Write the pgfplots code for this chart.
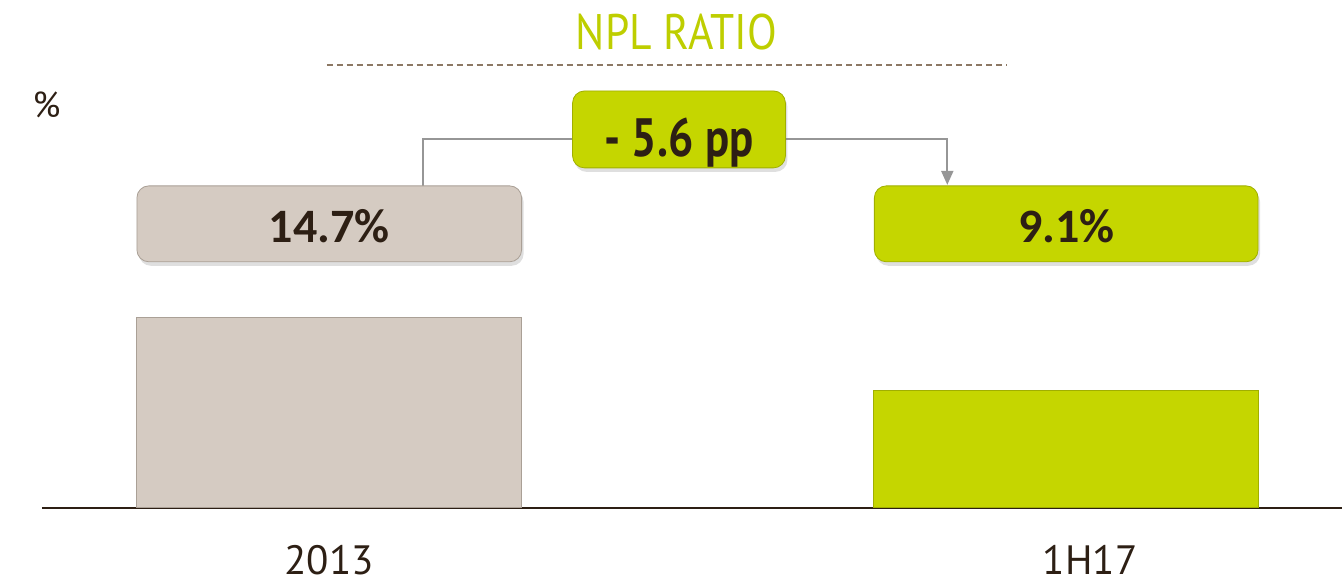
\documentclass[border=0pt]{standalone}
\usepackage{fontspec}
\setmainfont{PT Sans}
\newfontfamily\titlefont[FakeStretch=0.87]{PT Sans}
\newfontfamily\valfont{Carlito}
\newfontfamily\ppfont[FakeStretch=0.83]{PT Sans}
\usepackage{pgfplots}
\pgfplotsset{compat=1.18}
\usetikzlibrary{shadows,arrows.meta}
\definecolor{beige}{RGB}{213,203,194}
\definecolor{beigedark}{RGB}{170,160,150}
\definecolor{lime}{RGB}{197,214,0}
\definecolor{limedark}{RGB}{160,175,0}
\definecolor{titlegreen}{RGB}{190,206,0}
\definecolor{txt}{RGB}{45,31,20}
\definecolor{dashc}{RGB}{140,120,100}
\definecolor{conn}{RGB}{150,150,150}
\begin{document}
\begin{tikzpicture}
\begin{scope}[x=0.5pt,y=-0.5pt,shift={(0pt,254pt)}]
\path[use as bounding box] (0,0) rectangle (1343,586);
\end{scope}
\begin{axis}[at={(21pt,0pt)}, anchor=south west, scale only axis,
  width=650.5pt, height=254pt,
  xmin=-0.3898, xmax=1.3742, ymin=0, ymax=39.30,
  axis y line=none, axis x line*=bottom,
  x axis line style={draw=txt, line width=1pt},
  xtick={0,1}, xticklabels={2013,\hspace*{24pt}1H17},
  major tick length=0pt,
  xticklabel style={anchor=base, yshift=-33.5pt, font=\fontsize{20.5}{24}\selectfont, text=txt},
  clip=false]
\addplot[ybar, bar shift=0pt, bar width=0.522, fill=beige, draw=beigedark] coordinates {(0,14.7)};
\addplot[ybar, bar shift=0pt, bar width=0.522, fill=lime, draw=limedark] coordinates {(1,9.1)};
\end{axis}
\begin{scope}[x=0.5pt,y=-0.5pt,shift={(0pt,254pt)}]
\node[anchor=base, text=titlegreen, font=\titlefont\fontsize{25}{30}\selectfont] at (677,50) {NPL RATIO};
\draw[dashc, line width=1pt, dash pattern=on 3pt off 2pt] (327,65)--(1008,65);
\node[anchor=base, text=txt, font=\fontsize{18}{20}\selectfont] at (46.5,118) {\%};
\draw[conn, line width=1pt] (423,186) -- (423,139) -- (573,139);
\draw[conn, line width=1pt, -{Triangle[width=6pt,length=7pt]}] (786,139) -- (948,139) -- (948,185);
\draw[fill=beige, draw=beigedark, rounded corners=6pt, drop shadow={opacity=0.25, shadow xshift=1pt, shadow yshift=-2pt}] (137,186) rectangle (522,262);
\draw[fill=lime, draw=limedark, rounded corners=6pt, drop shadow={opacity=0.25, shadow xshift=1pt, shadow yshift=-2pt}] (875,186) rectangle (1259,262);
\draw[fill=lime, draw=limedark, rounded corners=6pt, drop shadow={opacity=0.25, shadow xshift=1pt, shadow yshift=-2pt}] (573,91) rectangle (786,168);
\node[anchor=base, text=txt, font=\valfont\bfseries\fontsize{24}{28}\selectfont] at (329.5,243) {14.7\%};
\node[anchor=base, text=txt, font=\valfont\bfseries\fontsize{24}{28}\selectfont] at (1067,243) {9.1\%};
\node[anchor=base, text=txt, font=\ppfont\bfseries\fontsize{27}{30}\selectfont] at (679.5,157) {- 5.6 pp};
\end{scope}
\end{tikzpicture}
\end{document}
